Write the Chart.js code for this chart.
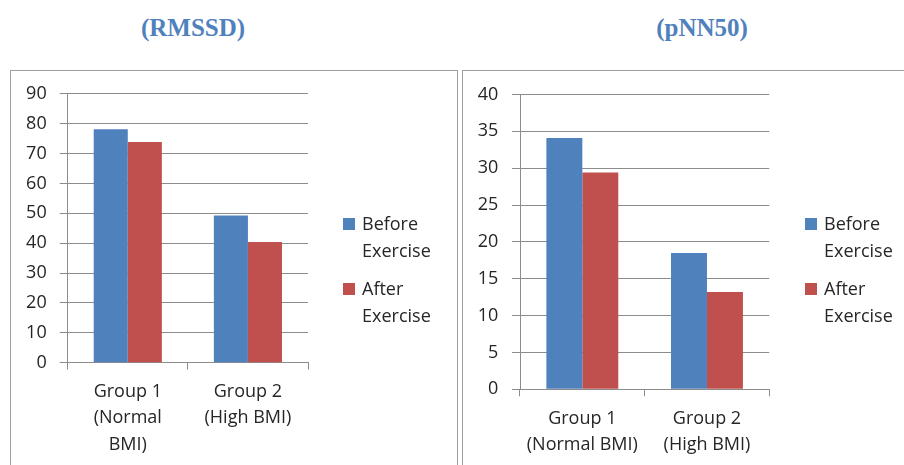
<!DOCTYPE html>
<html>
<head>
<meta charset="utf-8">
<script src="https://cdn.jsdelivr.net/npm/chart.js@4"></script>
<style>
  body { margin: 0; width: 904px; height: 465px; background: #fff; position: relative; overflow: hidden; font-family: "Open Sans", sans-serif; }
  .title { position: absolute; top: 14px; font: bold 25px "Liberation Serif", serif; color: #4F81BD; transform: translateX(-50%); white-space: nowrap; }
  .box { position: absolute; top: 70px; height: 420px; border: 1px solid #a0a0a0; box-sizing: border-box; }
  .wrap { position: absolute; top: 70px; height: 395px; }
  .legend { position: absolute; top: 0; font: 18px "Open Sans", sans-serif; color: #262626; }
  .item { position: relative; padding-left: 19px; line-height: 26.5px; margin-bottom: 12px; }
  .sw { position: absolute; left: 0; top: 8px; width: 12px; height: 12px; }
</style>
</head>
<body>
<div class="title" style="left:193px">(RMSSD)</div>
<div class="title" style="left:702px">(pNN50)</div>
<div class="box" style="left:10px; width:448px"></div>
<div class="box" style="left:462px; width:460px"></div>
<div class="wrap" style="left:10px; width:447px"><canvas id="rmssd"></canvas></div>
<div class="wrap" style="left:462px; width:442px"><canvas id="pnn50"></canvas></div>
<div class="legend" id="legendRmssd" style="left:343px; top:210px"></div>
<div class="legend" id="legendPnn50" style="left:805px; top:210px"></div>
<script>
const categoriesRmssd = [['Group 1', '(Normal', 'BMI)'], ['Group 2', '(High BMI)']];
const categoriesPnn50 = [['Group 1', '(Normal BMI)'], ['Group 2', '(High BMI)']];
const seriesLabels = ['Before Exercise', 'After Exercise'];
const seriesColors = ['#4F81BD', '#C0504D'];

const rmssdBefore = [78.1, 49.3];
const rmssdAfter = [73.9, 40.4];
const pnn50Before = [34.1, 18.5];
const pnn50After = [29.4, 13.2];

const rmssdTicks = [0, 10, 20, 30, 40, 50, 60, 70, 80, 90];
const pnn50Ticks = [0, 5, 10, 15, 20, 25, 30, 35, 40];

const textColor = '#262626';
const gridColor = '#8c8c8c';

function makeChart(id, categories, before, after, ticks, box) {
  const ctx = document.getElementById(id).getContext('2d');
  return new Chart(ctx, {
    type: 'bar',
    data: {
      labels: categories,
      datasets: [
        { label: seriesLabels[0], data: before, backgroundColor: seriesColors[0] },
        { label: seriesLabels[1], data: after, backgroundColor: seriesColors[1] },
      ],
    },
    options: {
      responsive: true,
      maintainAspectRatio: false,
      animation: false,
      categoryPercentage: box.pct,
      barPercentage: 1,
      layout: { padding: { top: 23, right: box.right, left: 0, bottom: 0 } },
      plugins: { legend: { display: false }, tooltip: { enabled: false } },
      scales: {
        x: {
          grid: { offset: true, drawOnChartArea: false, drawTicks: true, tickLength: 7, color: gridColor },
          border: { color: gridColor },
          ticks: {
            color: textColor,
            padding: 9,
            maxRotation: 0,
            autoSkip: false,
            font: { family: 'Open Sans', size: 18, lineHeight: 1.46 },
          },
          afterFit: (scale) => { scale.height = box.xh; },
        },
        y: {
          min: ticks[0],
          max: ticks[ticks.length - 1],
          afterBuildTicks: (scale) => { scale.ticks = ticks.map(v => ({ value: v })); },
          grid: { color: gridColor, tickLength: 8 },
          border: { color: gridColor },
          ticks: {
            color: textColor,
            padding: box.tpad,
            font: { family: 'Open Sans', size: 18 },
          },
          afterFit: (scale) => { scale.width = box.yw; },
        },
      },
    },
  });
}

function buildLegend(el, chart) {
  chart.data.datasets.forEach(ds => {
    const item = document.createElement('div');
    item.className = 'item';
    item.innerHTML = '<span class="sw" style="background:' + ds.backgroundColor + '"></span>' +
      ds.label.split(' ').join('<br>');
    el.appendChild(item);
  });
}

const c1 = makeChart('rmssd', categoriesRmssd, rmssdBefore, rmssdAfter, rmssdTicks,
  { pct: 0.567, right: 149, xh: 102.3, yw: 57.7, tpad: 13 });
const c2 = makeChart('pnn50', categoriesPnn50, pnn50Before, pnn50After, pnn50Ticks,
  { pct: 0.577, right: 134.7, xh: 75.7, yw: 58, tpad: 13.7 });
buildLegend(document.getElementById('legendRmssd'), c1);
buildLegend(document.getElementById('legendPnn50'), c2);
</script>
</body>
</html>
